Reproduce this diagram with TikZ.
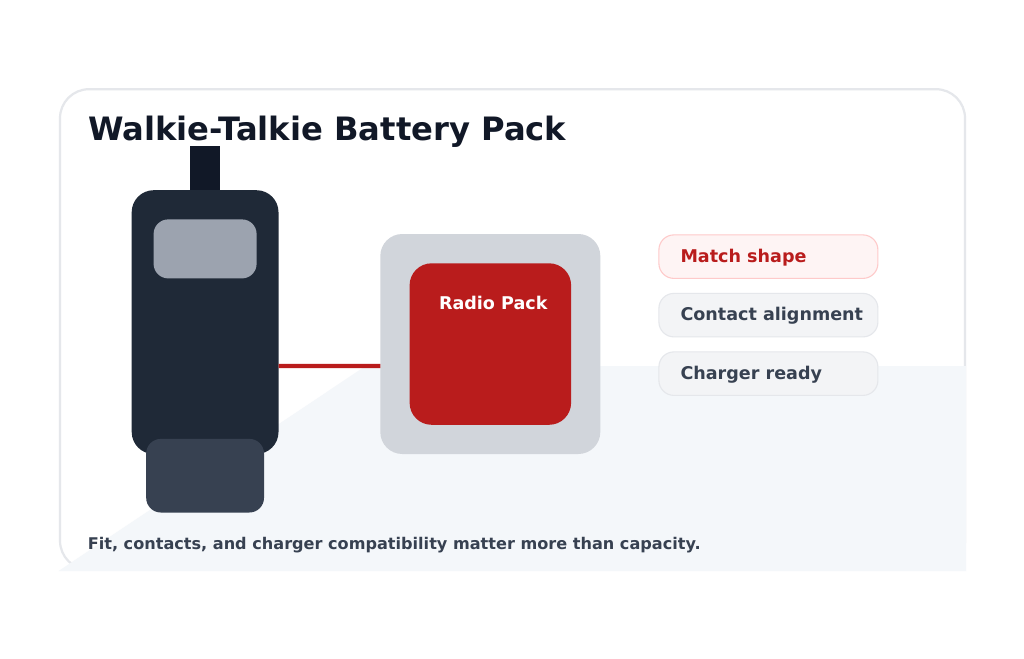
\documentclass[tikz,border=0pt]{standalone}
\usepackage{fontspec}
\setmainfont{DejaVu Sans}
\definecolor{ink}{HTML}{111827}
\definecolor{slate}{HTML}{1F2937}
\definecolor{slatemid}{HTML}{374151}
\definecolor{screen}{HTML}{9CA3AF}
\definecolor{packgray}{HTML}{D1D5DB}
\definecolor{packred}{HTML}{B91C1C}
\definecolor{cardline}{HTML}{E5E7EB}
\definecolor{floorc}{HTML}{F4F7FA}
\definecolor{pillred}{HTML}{FEF4F4}
\definecolor{pillredline}{HTML}{FECACA}
\definecolor{pillgray}{HTML}{F3F4F6}
\tikzset{
  box/.style={inner sep=0pt,outer sep=0pt,anchor=north west},
  pill/.style={box,draw,line width=1.1pt,rounded corners=15pt,minimum width=219pt,minimum height=43.5pt},
  pillgrey/.style={pill,fill=pillgray,draw=cardline},
  pillhot/.style={pill,fill=pillred,draw=pillredline},
  lab/.style={inner sep=0pt,outer sep=0pt,anchor=base west,font=\fontsize{17.55}{20}\selectfont\bfseries},
}
\begin{document}
\begin{tikzpicture}[x=1pt,y=-1pt]
\useasboundingbox (0,0) rectangle (1024,658);
\fill[white] (0,0) rectangle (1024,658);
\node[box,draw=cardline,fill=white,line width=2.2pt,rounded corners=29pt,minimum width=905pt,minimum height=480.5pt] (card) at (60,89.2) {};
\fill[floorc] (58.5,571) -- (365.7,366) -- (966,366) -- (966,571) -- cycle;
\node[box,fill=ink,minimum width=29.6pt,minimum height=45pt] (antenna) at (190.4,146.2) {};
\node[box,fill=slate,rounded corners=22pt,minimum width=146.8pt,minimum height=263.8pt] (body) at (131.7,190.2) {};
\node[box,fill=screen,rounded corners=14.6pt,minimum width=103pt,minimum height=59pt] (screen) at (153.6,219.4) {};
\node[box,fill=slatemid,rounded corners=14.6pt,minimum width=117.8pt,minimum height=73.6pt] (base) at (146.2,438.9) {};
\node[box,fill=packgray,rounded corners=22pt,minimum width=220pt,minimum height=220pt] (pack) at (380.3,234) {};
\node[box,fill=packred,rounded corners=22pt,minimum width=161.5pt,minimum height=161.5pt] (cell) at (409.6,263.3) {};
\draw[packred,line width=4.4pt] ([yshift=-43.9pt]body.east) -- (pack.west |- {0,366});
\node[lab,text=white] (packlabel) at (439,309.3) {Radio Pack};
\node[pillhot] (p1) at (658.9,234.9) {};
\node[pillgrey] (p2) at (658.9,293.4) {};
\node[pillgrey] (p3) at (658.9,351.9) {};
\node[lab,text=packred] (t1) at (680.5,262) {Match shape};
\node[lab,text=slatemid] (t2) at (680.5,320.4) {Contact alignment};
\node[lab,text=slatemid] (t3) at (680.5,379) {Charger ready};
\node[lab,text=ink,font=\fontsize{32.2}{36}\selectfont\bfseries] (title) at (88.2,140) {Walkie-Talkie Battery Pack};
\node[lab,text=slatemid,font=\fontsize{16.1}{20}\selectfont\bfseries] (foot) at (87.8,549) {Fit, contacts, and charger compatibility matter more than capacity.};
\end{tikzpicture}
\end{document}
